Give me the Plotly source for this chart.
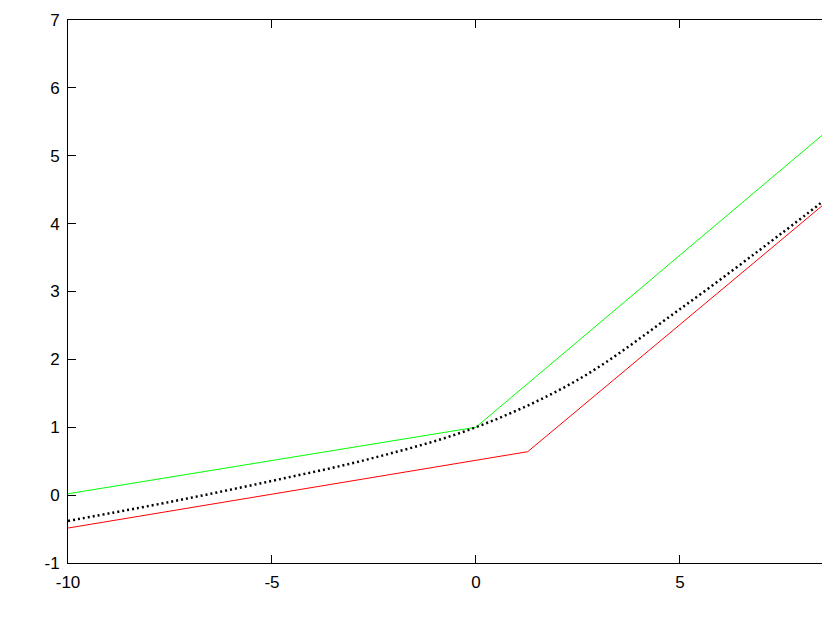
import plotly.graph_objects as go

# values
x_green = [-10, 0, 8.68]
y_green = [0.02, 1.0, 5.4]

x_red = [-10, 1.27, 8.68]
y_red = [-0.485, 0.64, 4.36]

x_curve = [-10, -7.5, -5, -2.5, 0, 2.5, 5, 7.5, 8.68]
y_curve = [-0.38, -0.10, 0.21, 0.55, 1.0, 1.7, 2.74, 3.86, 4.41]

x_ticks = [-10, -5, 0, 5]
x_labels = ['-10', '-5', '0', '5']
y_ticks = [-1, 0, 1, 2, 3, 4, 5, 6, 7]
y_labels = ['-1', '0', '1', '2', '3', '4', '5', '6', '7']

fig = go.Figure()

fig.add_trace(go.Scatter(x=x_green, y=y_green, mode='lines',
                         line=dict(color='#00ff00', width=1)))
fig.add_trace(go.Scatter(x=x_red, y=y_red, mode='lines',
                         line=dict(color='#ff0000', width=1)))
fig.add_trace(go.Scatter(x=x_curve, y=y_curve, mode='lines',
                         line=dict(color='black', width=2.5, dash='2px,3px', shape='spline')))

axis_style = dict(showgrid=False, zeroline=False, showline=True, linecolor='black',
                  linewidth=1, ticks='inside', ticklen=8, tickcolor='black', automargin=False,
                  tickfont=dict(family='Liberation Sans, Arial', size=17, color='black'))

# page body has an 8px margin; size the figure so the page does not scroll
fig.update_layout(
    width=822, height=618,
    margin=dict(l=60, r=0, t=12, b=63),
    plot_bgcolor='white', paper_bgcolor='white',
    showlegend=False,
    xaxis=dict(range=[-10, 8.68], tickvals=x_ticks, ticktext=x_labels, mirror='ticks',
               ticklabelstandoff=4, **axis_style),
    yaxis=dict(range=[-1, 7], tickvals=y_ticks, ticktext=y_labels,
               ticklabelstandoff=4, **axis_style),
)

fig.write_html("out.html")
